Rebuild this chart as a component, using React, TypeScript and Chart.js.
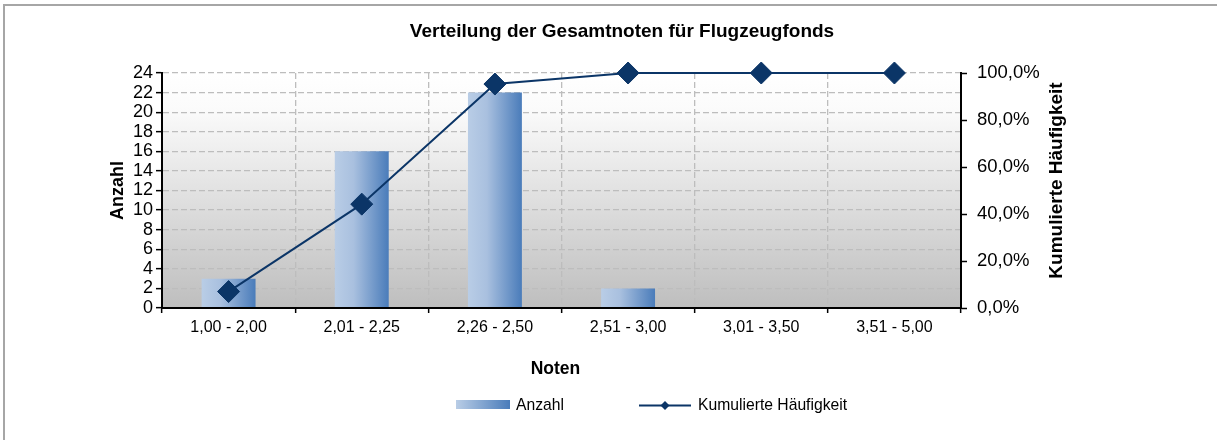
import React, { useEffect, useRef } from 'react';
import { Chart, registerables } from 'chart.js';

Chart.register(...registerables);

// ---- data ----
const categories = ['1,00 - 2,00', '2,01 - 2,25', '2,26 - 2,50', '2,51 - 3,00', '3,01 - 3,50', '3,51 - 5,00'];
const anzahl = [3, 16, 22, 2, 0, 0];
const kumuliert = [7.0, 44.2, 95.3, 100, 100, 100];

const leftMax = 24;
const leftStep = 2;
const rightMax = 100;
const rightStep = 20;

const chartTitle = 'Verteilung der Gesamtnoten für Flugzeugfonds';
const xTitle = 'Noten';
const yLeftTitle = 'Anzahl';
const yRightTitle = 'Kumulierte Häufigkeit';
const seriesBarName = 'Anzahl';
const seriesLineName = 'Kumulierte Häufigkeit';

// ---- style ----
const W = 1217;
const H = 440;
const FONT = "'Liberation Sans', Arial, sans-serif";
const NAVY = '#0b3567';
const BAR_LIGHT = '#b9cde6';
const BAR_DARK = '#4a7cba';
const GRID = '#bdbdbd';
const BAR_PCT = 0.405;

const fmtPct = (v: number) => v.toFixed(1).replace('.', ',') + '%';

const decorPlugin = {
  id: 'decor',
  beforeDraw(chart: any) {
    const { ctx, chartArea: a } = chart;
    ctx.save();
    ctx.fillStyle = '#ffffff';
    ctx.fillRect(0, 0, chart.width, chart.height);
    // frame (top + left)
    ctx.fillStyle = '#a6a6a6';
    ctx.fillRect(3, 4, chart.width - 3, 2);
    ctx.fillRect(3, 4, 2, chart.height - 4);
    // plot area gradient
    const g = ctx.createLinearGradient(0, a.top, 0, a.bottom);
    g.addColorStop(0, '#ffffff');
    g.addColorStop(0.15, '#fbfbfb');
    g.addColorStop(1, '#bebebe');
    ctx.fillStyle = g;
    ctx.fillRect(a.left, a.top, a.right - a.left, a.bottom - a.top);
    ctx.restore();
  },
  afterDatasetsDraw(chart: any) {
    const { ctx, chartArea: a } = chart;
    ctx.save();
    ctx.strokeStyle = '#000';
    ctx.lineWidth = 2;
    ctx.beginPath();
    ctx.moveTo(a.left - 1, a.bottom);
    ctx.lineTo(a.right + 1, a.bottom);
    ctx.stroke();
    ctx.restore();
  },
  afterDraw(chart: any) {
    const { ctx, chartArea: a } = chart;
    ctx.save();
    ctx.fillStyle = '#000';
    // title
    ctx.font = `bold 19px ${FONT}`;
    ctx.textAlign = 'center';
    ctx.textBaseline = 'alphabetic';
    ctx.fillText(chartTitle, 622, 37);
    // x title
    ctx.font = `bold 17.5px ${FONT}`;
    ctx.fillText(xTitle, (a.left + a.right) / 2 - 6, 374);
    // left y title
    ctx.save();
    ctx.translate(123, (a.top + a.bottom) / 2);
    ctx.rotate(-Math.PI / 2);
    ctx.font = `bold 18px ${FONT}`;
    ctx.fillText(yLeftTitle, 0, 0);
    ctx.restore();
    // right y title
    ctx.save();
    ctx.translate(1062, (a.top + a.bottom) / 2 - 10);
    ctx.rotate(-Math.PI / 2);
    ctx.font = `bold 19px ${FONT}`;
    ctx.fillText(yRightTitle, 0, 0);
    ctx.restore();

    // legend
    const ly = 405;
    const g = ctx.createLinearGradient(456, 0, 510, 0);
    g.addColorStop(0, BAR_LIGHT);
    g.addColorStop(1, BAR_DARK);
    ctx.fillStyle = g;
    ctx.fillRect(456, ly - 5, 54, 9);
    ctx.fillStyle = '#000';
    ctx.font = `15.7px ${FONT}`;
    ctx.textAlign = 'left';
    ctx.textBaseline = 'middle';
    ctx.fillText(seriesBarName, 516, ly + 1);

    ctx.strokeStyle = NAVY;
    ctx.lineWidth = 2;
    ctx.beginPath();
    ctx.moveTo(639, ly + 0.5);
    ctx.lineTo(691, ly + 0.5);
    ctx.stroke();
    ctx.fillStyle = NAVY;
    ctx.beginPath();
    ctx.moveTo(665, ly - 4);
    ctx.lineTo(669.5, ly + 0.5);
    ctx.lineTo(665, ly + 5);
    ctx.lineTo(660.5, ly + 0.5);
    ctx.closePath();
    ctx.fill();
    ctx.fillStyle = '#000';
    ctx.fillText(seriesLineName, 698, ly + 1);
    ctx.restore();
  },
};

export default function App() {
  const ref = useRef<HTMLCanvasElement | null>(null);

  useEffect(() => {
    if (!ref.current) return;
    const chart = new Chart(ref.current, {
      type: 'bar',
      data: {
        labels: categories,
        datasets: [
          {
            type: 'line',
            label: seriesLineName,
            data: kumuliert,
            yAxisID: 'y1',
            borderColor: NAVY,
            borderWidth: 2,
            backgroundColor: NAVY,
            pointStyle: 'rectRot',
            pointRadius: 11,
            pointBorderWidth: 1,
            pointBorderColor: NAVY,
            pointBackgroundColor: NAVY,
            tension: 0,
            clip: false,
            order: 0,
          } as any,
          {
            type: 'bar',
            label: seriesBarName,
            data: anzahl,
            yAxisID: 'y',
            barPercentage: BAR_PCT,
            categoryPercentage: 1,
            borderWidth: 0,
            order: 1,
            backgroundColor: (c: any) => {
              const chart = c.chart;
              const xs = chart.scales && chart.scales.x;
              if (!xs || c.type !== 'data' || !xs.width) return '#8eaad6';
              const cx = xs.getPixelForValue(c.dataIndex);
              const w = (xs.width / categories.length) * BAR_PCT;
              const g = chart.ctx.createLinearGradient(cx - w / 2, 0, cx + w / 2, 0);
              g.addColorStop(0, BAR_LIGHT);
              g.addColorStop(0.35, '#a9c0df');
              g.addColorStop(1, BAR_DARK);
              return g;
            },
          } as any,
        ],
      },
      options: {
        responsive: false,
        animation: false,
        layout: { padding: { top: 73, left: 0, right: 0, bottom: 0 } },
        plugins: {
          legend: { display: false },
          title: { display: false },
          tooltip: { enabled: false },
        },
        scales: {
          x: {
            afterFit: (s: any) => { s.height = H - 308; },
            grid: {
              offset: true,
              color: GRID,
              lineWidth: 1.3,
              tickLength: 5,
              tickColor: '#000',
              tickWidth: 1.5,
              tickBorderDash: [],
            } as any,
            border: { display: true, color: '#000', width: 2, dash: [6, 3] } as any,
            ticks: {
              color: '#000',
              font: { family: FONT, size: 16 },
              padding: 5,
              maxRotation: 0,
              autoSkip: false,
            },
          },
          y: {
            position: 'left',
            min: 0,
            max: leftMax,
            afterFit: (s: any) => { s.width = 162; },
            grid: {
              color: GRID,
              lineWidth: 1.3,
              tickLength: 6,
              tickColor: '#000',
              tickWidth: 1.5,
              tickBorderDash: [],
            } as any,
            border: { display: true, color: '#000', width: 2, dash: [6, 3] } as any,
            ticks: {
              stepSize: leftStep,
              autoSkip: false,
              color: '#000',
              font: { family: FONT, size: 18 },
              padding: 3,
            },
          },
          y1: {
            position: 'right',
            min: 0,
            max: rightMax,
            afterFit: (s: any) => { s.width = W - 961; },
            grid: {
              drawOnChartArea: false,
              tickLength: 6,
              tickColor: '#000',
              tickWidth: 1.5,
            },
            border: { display: true, color: '#000', width: 2 } as any,
            ticks: {
              stepSize: rightStep,
              autoSkip: false,
              color: '#000',
              font: { family: FONT, size: 18.5 },
              padding: 10,
              callback: (v: any) => fmtPct(Number(v)),
            },
          },
        },
      },
      plugins: [decorPlugin],
    });
    return () => chart.destroy();
  }, []);

  return (
    <div style={{ position: 'absolute', left: 0, top: 0, width: W, height: H, background: '#fff' }}>
      <canvas ref={ref} width={W} height={H} style={{ display: 'block', width: W, height: H }} />
    </div>
  );
}
